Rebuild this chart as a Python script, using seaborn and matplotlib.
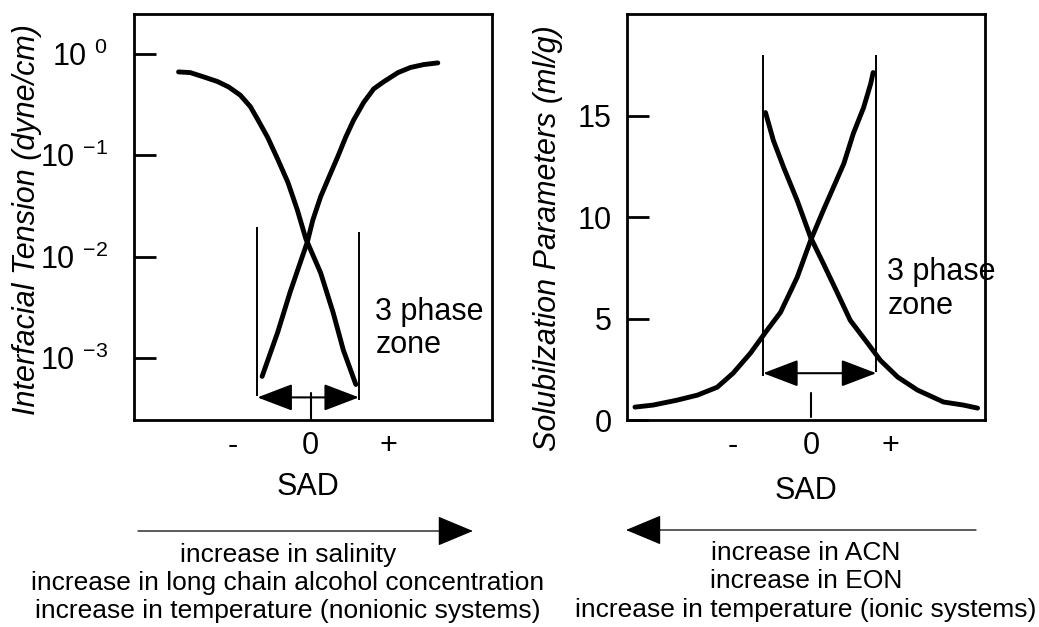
import matplotlib
matplotlib.use("Agg")
import matplotlib.pyplot as plt
from matplotlib.ticker import NullLocator
from matplotlib.patches import FancyArrowPatch
import seaborn as sns

# left panel - interfacial tension (dyne/cm) against SAD
ift_sad_down = [-1.69, -1.54, -1.37, -1.19, -1.05, -0.90, -0.77, -0.67, -0.55, -0.42, -0.29, -0.17,
                -0.06, 0.13, 0.29, 0.42, 0.58]
ift_down = [0.66, 0.65, 0.59, 0.53, 0.47, 0.39, 0.30, 0.22, 0.15, 0.091, 0.054, 0.029,
            0.015, 0.0069, 0.0028, 0.0012, 0.00055]
ift_sad_up = [-0.62, -0.42, -0.26, -0.04, 0.03, 0.13, 0.26, 0.35, 0.45, 0.55, 0.68, 0.81,
              0.94, 1.12, 1.28, 1.45, 1.63]
ift_up = [0.00066, 0.0018, 0.0045, 0.014, 0.023, 0.039, 0.067, 0.097, 0.15, 0.22, 0.33, 0.45,
          0.53, 0.65, 0.73, 0.78, 0.81]
ift_ticks = [1, 0.1, 0.01, 0.001]
ift_tick_labels = ["10 $^{0}$", "10 $^{-1}$", "10 $^{-2}$", "10 $^{-3}$"]
ift_zone_x = [-0.68, 0.62]
ift_zone_low = [0.00042, 0.00039]
ift_zone_high = [0.0195, 0.0174]
ift_arrow_y = 0.00041

# right panel - solubilization parameters (ml/g) against SAD
sol_sad_down = [-0.58, -0.48, -0.35, -0.18, -0.01, 0.15, 0.33, 0.49, 0.71, 0.87, 1.09, 1.34, 1.67, 1.92, 2.10]
sol_down = [15.15, 13.77, 12.44, 10.82, 9.0, 7.72, 6.25, 4.92, 3.79, 2.95, 2.12, 1.48, 0.89, 0.74, 0.59]
sol_sad_up = [-2.23, -2.0, -1.70, -1.44, -1.19, -0.99, -0.77, -0.56, -0.39, -0.18, -0.01, 0.15, 0.41, 0.53, 0.66, 0.75, 0.78]
sol_up = [0.64, 0.74, 0.98, 1.23, 1.62, 2.31, 3.30, 4.43, 5.31, 7.03, 8.85, 10.33, 12.64, 14.12, 15.40, 16.58, 17.12]
sol_ticks = [0, 5, 10, 15]
sol_zone_x = [-0.61, 0.82]
sol_zone_low = [2.16, 2.36]
sol_zone_high = [18.0, 18.0]
sol_arrow_y = 2.31

sad_ticks = [-1, 0, 1]
sad_labels = ["-", "0", "+"]

left_notes = ["increase in salinity",
              "increase in long chain alcohol concentration",
              "increase in temperature (nonionic systems)"]
right_notes = ["increase in ACN",
               "increase in EON",
               "increase in temperature (ionic systems)"]

sns.set_style("white")
plt.rcParams["font.family"] = ["Liberation Sans", "DejaVu Sans"]
plt.rcParams["mathtext.fontset"] = "custom"
plt.rcParams["mathtext.rm"] = "Liberation Sans"
plt.rcParams["mathtext.it"] = "Liberation Sans:italic"
plt.rcParams["mathtext.default"] = "regular"
for key in ["text.color", "axes.labelcolor", "xtick.color", "ytick.color", "axes.edgecolor"]:
    plt.rcParams[key] = "black"

fig = plt.figure(figsize=(10.39, 6.27), dpi=100)
ax1 = fig.add_axes([0.129, 0.330, 0.345, 0.6475])
ax2 = fig.add_axes([0.6035, 0.330, 0.345, 0.6475])

curve_kw = dict(color="black", lw=3.5, estimator=None, sort=False)
sns.lineplot(x=ift_sad_down, y=ift_down, ax=ax1, **curve_kw)
sns.lineplot(x=ift_sad_up, y=ift_up, ax=ax1, **curve_kw)
sns.lineplot(x=sol_sad_down, y=sol_down, ax=ax2, **curve_kw)
sns.lineplot(x=sol_sad_up, y=sol_up, ax=ax2, **curve_kw)

ax1.set_yscale("log")
ax1.set_xlim(-2.26, 2.33)
ax1.set_ylim(2.45e-4, 2.45)
ax1.set_yticks(ift_ticks)
ax1.set_yticklabels(ift_tick_labels)
ax1.yaxis.set_minor_locator(NullLocator())

ax2.set_xlim(-2.33, 2.20)
ax2.set_ylim(0, 20)
ax2.set_yticks(sol_ticks)
ax2.set_yticklabels([str(t) for t in sol_ticks])

for ax in (ax1, ax2):
    ax.set_xticks(sad_ticks)
    ax.set_xticklabels(sad_labels)
    ax.tick_params(axis="x", bottom=True, length=0, labelsize=22, pad=8)
    ax.tick_params(axis="y", left=True, right=False, direction="in", length=16,
                   width=2, labelsize=22)
    for sp in ax.spines.values():
        sp.set_linewidth(2)
ax1.tick_params(axis="y", pad=19)
ax2.tick_params(axis="y", pad=11)

# three phase zone
arrow_kw = dict(arrowstyle="<|-|>,head_length=1.1,head_width=0.42", mutation_scale=20,
                shrinkA=0, shrinkB=0, color="black", lw=1.5)
ax1.vlines(ift_zone_x, ift_zone_low, ift_zone_high, color="black", lw=1.4)
ax1.annotate("", xy=(ift_zone_x[1], ift_arrow_y), xytext=(ift_zone_x[0], ift_arrow_y),
             arrowprops=arrow_kw)
ax1.axvline(0, ymin=0, ymax=0.066, color="black", lw=1.5)
ax1.text(0.83, 0.0040, "3 phase\nzone", fontsize=22, va="top", linespacing=1.15)

ax2.vlines(sol_zone_x, sol_zone_low, sol_zone_high, color="black", lw=1.4)
ax2.annotate("", xy=(sol_zone_x[1], sol_arrow_y), xytext=(sol_zone_x[0], sol_arrow_y),
             arrowprops=arrow_kw)
ax2.axvline(0, ymin=0.007, ymax=0.066, color="black", lw=1.5)
ax2.text(0.96, 8.02, "3 phase\nzone", fontsize=22, va="top", linespacing=1.15)

ax1.set_ylabel("Interfacial Tension (dyne/cm)", fontsize=22, fontstyle="italic")
ax1.yaxis.set_label_coords(-0.257, 0.493)
ax2.set_ylabel("Solubilzation Parameters (ml/g)", fontsize=22, fontstyle="italic")
ax2.yaxis.set_label_coords(-0.179, 0.448)
ax1.set_xlabel("SAD", fontsize=22)
ax1.xaxis.set_label_coords(0.486, -0.128)
ax2.set_xlabel("SAD", fontsize=22)
ax2.xaxis.set_label_coords(0.5, -0.138)

# direction arrows and notes under the panels
big_arrow = dict(arrowstyle="-|>,head_length=1.15,head_width=0.48", mutation_scale=20,
                 shrinkA=0, shrinkB=0, color="black", lw=0.9)
fig.add_artist(FancyArrowPatch((0.1328, 0.1531), (0.4552, 0.1531),
                               transform=fig.transFigure, **big_arrow))
fig.add_artist(FancyArrowPatch((0.9394, 0.1547), (0.6025, 0.1547),
                               transform=fig.transFigure, **big_arrow))

for txt, y in zip(left_notes, [0.1037, 0.0590, 0.0144]):
    fig.text(0.2772, y, txt, fontsize=19, ha="center", va="baseline")
for txt, y in zip(right_notes, [0.1069, 0.0622, 0.0159]):
    fig.text(0.7758, y, txt, fontsize=19, ha="center", va="baseline")

fig.savefig("out.png", dpi=100)
